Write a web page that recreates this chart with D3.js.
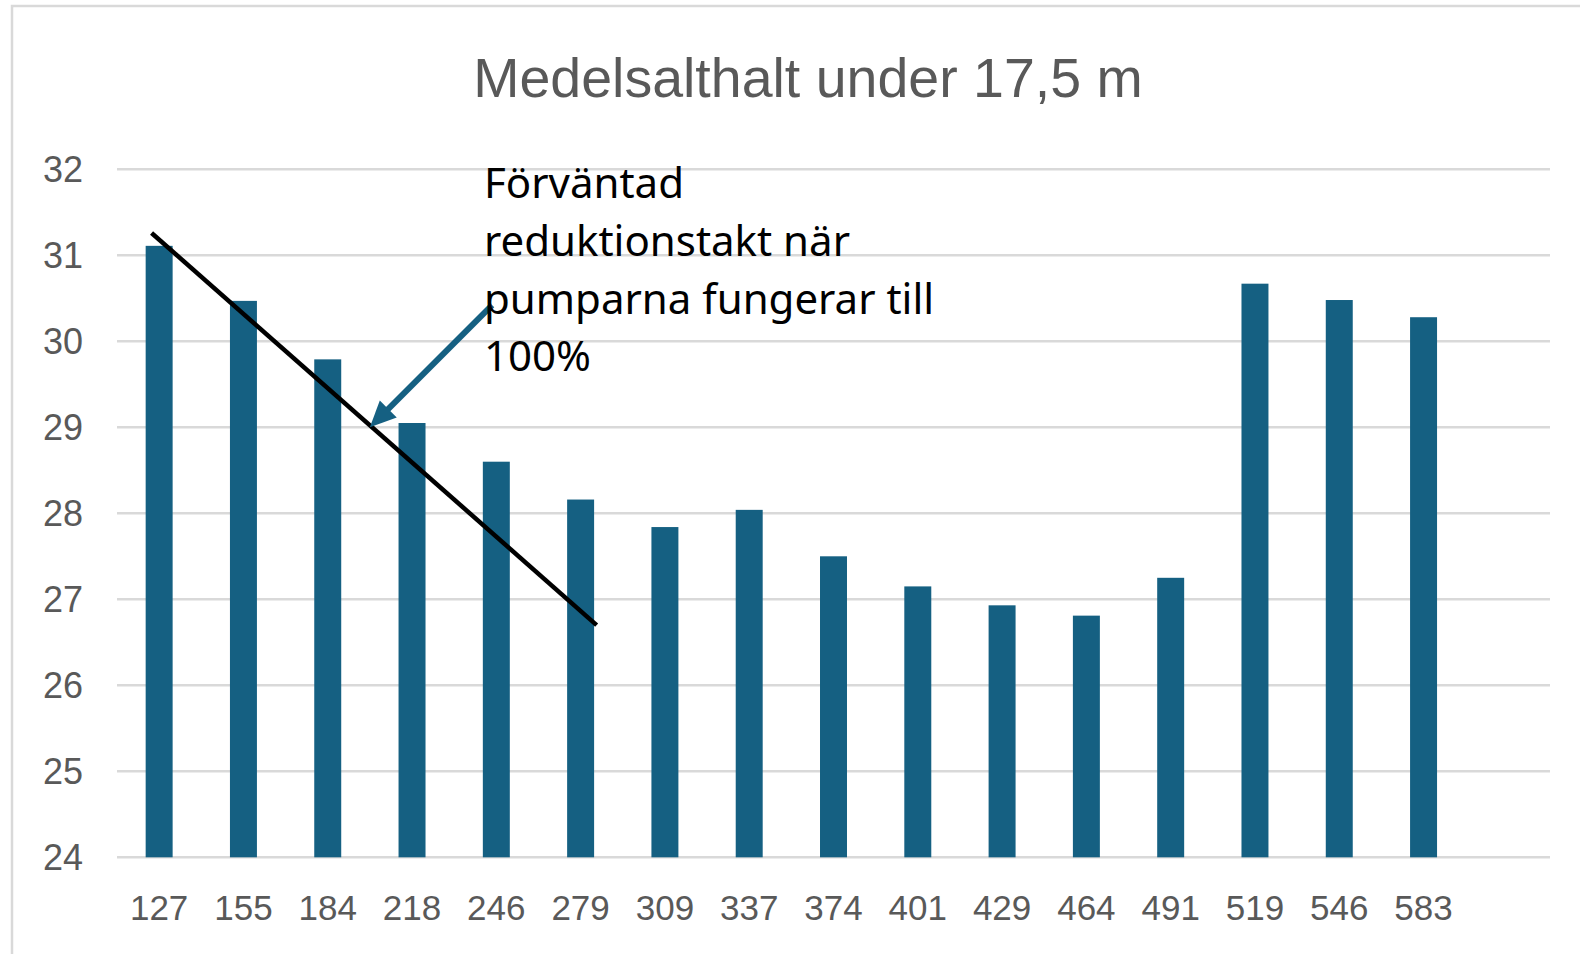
<!DOCTYPE html>
<html>
<head>
<meta charset="utf-8">
<script src="https://cdn.jsdelivr.net/npm/d3@7"></script>
<style>
  body { margin: 0; background: #fff; }
  svg { display: block; }
  .grid line { stroke: #d9d9d9; stroke-width: 2.5; }
  .axis-label { fill: #595959; font-family: "Liberation Sans", Arial, sans-serif; font-size: 35px; }
  .y-label { font-size: 36px; }
</style>
</head>
<body>
<div class="container"></div>
<script>
var width = 1580;
var height = 954;

// depth categories (m) and mean salinity
var depths = ["127", "155", "184", "218", "246", "279", "309", "337", "374", "401", "429", "464", "491", "519", "546", "583"];
var salinity = [31.11, 30.47, 29.79, 29.05, 28.60, 28.16, 27.84, 28.04, 27.50, 27.15, 26.93, 26.81, 27.25, 30.67, 30.48, 30.28];
var yTicks = [24, 25, 26, 27, 28, 29, 30, 31, 32];

// expected reduction line, in category index units / salinity
var trendIdx = [0.41, 5.69];
var trendVal = [31.26, 26.70];
// arrow: tail -> tip
var arrowIdx = [4.45, 3.0];
var arrowVal = [30.42, 29.0];

var annotationLines = ["Förväntad", "reduktionstakt när", "pumparna fungerar till", "100%"];
var title = "Medelsalthalt under 17,5 m";

var barColor = "#156082";

var plot = { left: 117, right: 1550, top: 169.3, bottom: 857.3 };

function init() {
    var svg = d3.select(".container").append("svg")
        .attr("width", width)
        .attr("height", height);

    // chart frame (only top and left visible in the picture)
    svg.append("path")
        .attr("d", "M12,954 L12,6 L1580,6")
        .attr("fill", "none")
        .attr("stroke", "#d9d9d9")
        .attr("stroke-width", 2.5);

    // one extra empty slot at the end, like the original
    var slots = depths.concat([""]);
    var x = d3.scaleBand()
        .domain(slots)
        .range([plot.left, plot.right])
        .paddingInner(0.68)
        .paddingOuter(0.34);

    var y = d3.scaleLinear()
        .domain([24, 32])
        .range([plot.bottom, plot.top]);

    var xi = d3.scaleLinear()
        .domain([0, slots.length])
        .range([plot.left, plot.right]);

    // gridlines
    svg.append("g")
        .classed("grid", true)
        .selectAll("line")
        .data(yTicks)
        .enter()
        .append("line")
        .attr("x1", plot.left)
        .attr("x2", plot.right)
        .attr("y1", function(d) { return y(d); })
        .attr("y2", function(d) { return y(d); });

    // y labels
    svg.append("g")
        .selectAll("text")
        .data(yTicks)
        .enter()
        .append("text")
        .classed("axis-label y-label", true)
        .attr("x", 83)
        .attr("y", function(d) { return y(d); })
        .attr("dy", "0.36em")
        .attr("text-anchor", "end")
        .text(function(d) { return d; });

    // bars
    svg.append("g")
        .selectAll("rect")
        .data(salinity)
        .enter()
        .append("rect")
        .attr("x", function(d, i) { return x(depths[i]); })
        .attr("width", x.bandwidth())
        .attr("y", function(d) { return y(d); })
        .attr("height", function(d) { return y(24) - y(d); })
        .attr("fill", barColor);

    // x labels
    svg.append("g")
        .selectAll("text")
        .data(depths)
        .enter()
        .append("text")
        .classed("axis-label", true)
        .attr("x", function(d) { return x(d) + x.bandwidth() / 2; })
        .attr("y", 920)
        .attr("text-anchor", "middle")
        .text(function(d) { return d; });

    // title
    svg.append("text")
        .attr("x", 808)
        .attr("y", 97)
        .attr("text-anchor", "middle")
        .attr("fill", "#595959")
        .style("font-family", "'Liberation Sans Narrow', 'Liberation Sans', sans-serif")
        .style("font-size", "55.5px")
        .text(title);

    // trend line
    svg.append("line")
        .attr("x1", xi(trendIdx[0]))
        .attr("y1", y(trendVal[0]))
        .attr("x2", xi(trendIdx[1]))
        .attr("y2", y(trendVal[1]))
        .attr("stroke", "#000")
        .attr("stroke-width", 4.5);

    // arrow
    var ax1 = xi(arrowIdx[0]), ay1 = y(arrowVal[0]);
    var ax2 = xi(arrowIdx[1]), ay2 = y(arrowVal[1]);
    var ang = Math.atan2(ay2 - ay1, ax2 - ax1);
    var headLen = 26, headHalf = 12;
    var bx = ax2 - headLen * Math.cos(ang), by = ay2 - headLen * Math.sin(ang);
    svg.append("line")
        .attr("x1", ax1)
        .attr("y1", ay1)
        .attr("x2", bx + 2 * Math.cos(ang))
        .attr("y2", by + 2 * Math.sin(ang))
        .attr("stroke", barColor)
        .attr("stroke-width", 6);
    svg.append("polygon")
        .attr("points", [
            [ax2, ay2],
            [bx - headHalf * Math.sin(ang), by + headHalf * Math.cos(ang)],
            [bx + headHalf * Math.sin(ang), by - headHalf * Math.cos(ang)]
        ].map(function(p) { return p.join(","); }).join(" "))
        .attr("fill", barColor);

    // annotation text
    svg.append("g")
        .selectAll("text")
        .data(annotationLines)
        .enter()
        .append("text")
        .attr("x", 484)
        .attr("y", function(d, i) { return 198 + i * 57.8; })
        .attr("fill", "#000")
        .style("font-family", "'Noto Sans', sans-serif")
        .style("font-size", "42px")
        .text(function(d) { return d; });
}

init();
</script>
</body>
</html>
